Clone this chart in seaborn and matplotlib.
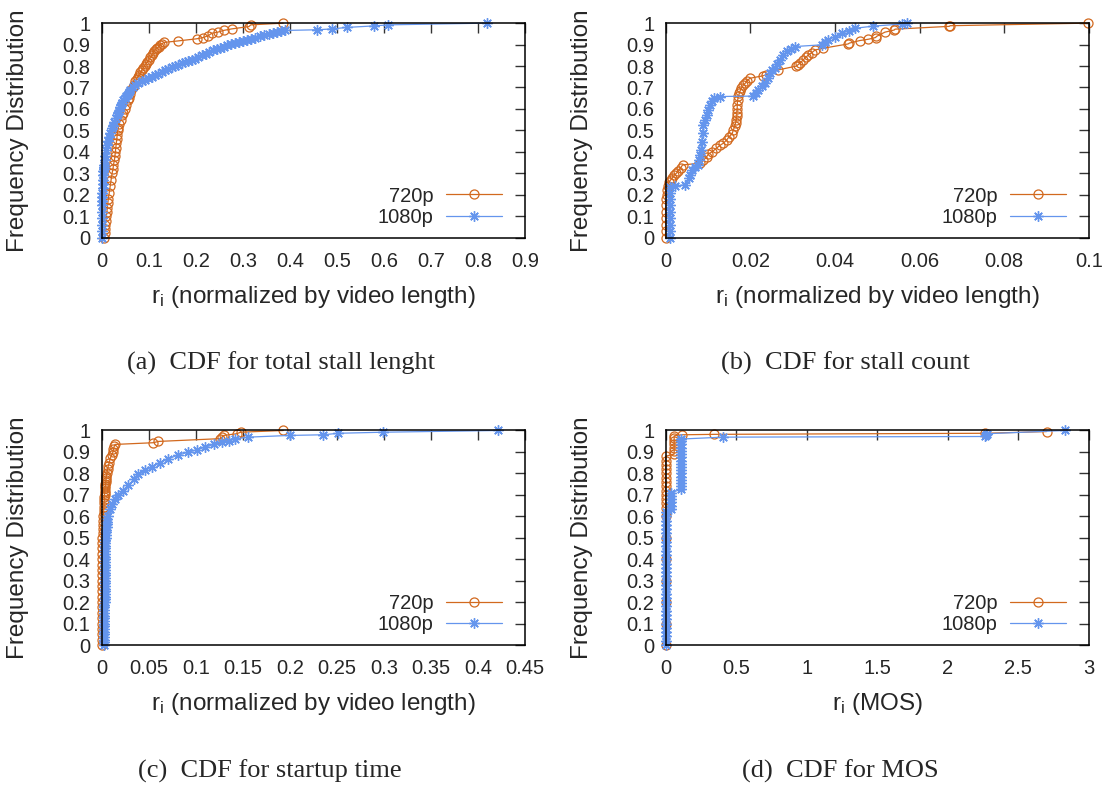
import matplotlib
matplotlib.use("Agg")
import matplotlib.pyplot as plt
import seaborn as sns
from matplotlib.ticker import MultipleLocator, FormatStrFormatter

# (a) total stall length -- CDF points
a720_x = [0.005, 0.006, 0.007, 0.008, 0.009, 0.010, 0.011, 0.012, 0.013, 0.014,
          0.016, 0.018, 0.020, 0.022, 0.024, 0.025, 0.027, 0.028, 0.029, 0.030,
          0.031, 0.032, 0.033, 0.034, 0.035, 0.037, 0.040, 0.043, 0.046, 0.049,
          0.052, 0.055, 0.057, 0.060, 0.063, 0.066, 0.068, 0.071, 0.074, 0.077,
          0.079, 0.082, 0.085, 0.088, 0.091, 0.094, 0.097, 0.100, 0.103, 0.106,
          0.109, 0.112, 0.115, 0.118, 0.121, 0.125, 0.129, 0.132, 0.162, 0.202,
          0.216, 0.227, 0.234, 0.247, 0.259, 0.276, 0.313, 0.317, 0.386]
a720_y = [0.00, 0.02, 0.04, 0.06, 0.08, 0.10, 0.12, 0.14, 0.16, 0.18,
          0.21, 0.24, 0.27, 0.30, 0.32, 0.34, 0.36, 0.38, 0.40, 0.42,
          0.44, 0.46, 0.48, 0.50, 0.51, 0.53, 0.55, 0.57, 0.58, 0.60,
          0.62, 0.64, 0.65, 0.67, 0.69, 0.70, 0.71, 0.73, 0.74, 0.75,
          0.76, 0.77, 0.78, 0.79, 0.80, 0.81, 0.82, 0.83, 0.84, 0.85,
          0.86, 0.87, 0.88, 0.885, 0.89, 0.90, 0.905, 0.91, 0.917, 0.927,
          0.933, 0.942, 0.953, 0.958, 0.966, 0.973, 0.984, 0.992, 1.0]
a1080_x = [0.000, 0.000, 0.000, 0.000, 0.000, 0.000, 0.001, 0.001, 0.001, 0.002,
           0.002, 0.002, 0.003, 0.003, 0.004, 0.004,
           0.005, 0.006, 0.007, 0.009, 0.011, 0.013, 0.015, 0.018, 0.021, 0.024,
           0.027, 0.030, 0.033, 0.035, 0.037, 0.039, 0.041, 0.044, 0.046, 0.049,
           0.052, 0.055, 0.057, 0.061, 0.066, 0.071, 0.078, 0.085, 0.092, 0.099,
           0.106, 0.113, 0.120, 0.128, 0.135, 0.142, 0.149, 0.156, 0.163, 0.170,
           0.177, 0.184, 0.191, 0.198, 0.205, 0.213, 0.221, 0.229, 0.237, 0.245,
           0.252, 0.259, 0.267, 0.275, 0.283, 0.291, 0.300, 0.308, 0.317, 0.327,
           0.337, 0.346, 0.355, 0.365, 0.373, 0.381, 0.390, 0.457, 0.489, 0.521,
           0.578, 0.609, 0.819]
a1080_y = [0.00, 0.03, 0.06, 0.09, 0.12, 0.15, 0.17, 0.19, 0.21, 0.23,
           0.25, 0.27, 0.29, 0.31, 0.32, 0.33,
           0.34, 0.36, 0.38, 0.41, 0.43, 0.45, 0.47, 0.49, 0.51, 0.52,
           0.54, 0.56, 0.57, 0.58, 0.59, 0.61, 0.62, 0.63, 0.64, 0.65,
           0.66, 0.67, 0.68, 0.69, 0.70, 0.71, 0.72, 0.73, 0.736, 0.742,
           0.75, 0.759, 0.765, 0.772, 0.782, 0.788, 0.795, 0.80, 0.805, 0.812,
           0.818, 0.824, 0.829, 0.835, 0.842, 0.852, 0.858, 0.865, 0.875, 0.88,
           0.886, 0.891, 0.896, 0.902, 0.907, 0.912, 0.917, 0.922, 0.927, 0.933,
           0.938, 0.943, 0.948, 0.953, 0.958, 0.963, 0.966, 0.969, 0.973, 0.98,
           0.987, 0.992, 1.0]

# (b) stall count
b720_x = [0.0, 0.0, 0.0, 0.0, 0.0, 0.0, 0.0001, 0.0002, 0.0004, 0.0006,
          0.0008, 0.0012, 0.0016, 0.0020, 0.0025, 0.0030, 0.0035, 0.0040, 0.0081, 0.0089,
          0.0097, 0.0101, 0.0110, 0.0120, 0.0128, 0.0136, 0.0144, 0.0150, 0.0157, 0.0160,
          0.0163, 0.0165, 0.0167, 0.0168, 0.0168, 0.0169, 0.0169, 0.0170, 0.0172, 0.0174,
          0.0176, 0.0179, 0.0183, 0.0188, 0.0193, 0.0199, 0.0231, 0.0236, 0.0266, 0.0309,
          0.0312, 0.0318, 0.0325, 0.0331, 0.0337, 0.0345, 0.0353, 0.0372, 0.0431, 0.0434,
          0.0459, 0.0479, 0.0496, 0.0498, 0.0518, 0.0540, 0.0542, 0.0670, 0.0672, 0.0998]
b720_y = [0.00, 0.03, 0.06, 0.09, 0.12, 0.15, 0.18, 0.20, 0.22, 0.24,
          0.26, 0.27, 0.28, 0.29, 0.30, 0.31, 0.325, 0.339, 0.347, 0.36,
          0.378, 0.39, 0.401, 0.417, 0.43, 0.44, 0.455, 0.471, 0.485, 0.502,
          0.52, 0.534, 0.55, 0.565, 0.58, 0.60, 0.62, 0.642, 0.66, 0.673,
          0.685, 0.697, 0.71, 0.72, 0.732, 0.743, 0.755, 0.759, 0.782, 0.80,
          0.805, 0.815, 0.829, 0.84, 0.852, 0.862, 0.875, 0.883, 0.903, 0.907,
          0.919, 0.925, 0.933, 0.938, 0.958, 0.968, 0.972, 0.985, 0.988, 1.0]
b1080_x = [0.001, 0.001, 0.001, 0.001, 0.001, 0.001, 0.001, 0.001, 0.001, 0.0022,
           0.0046, 0.0054, 0.0058, 0.0062, 0.0070, 0.0077, 0.0079, 0.0081, 0.0083, 0.0085,
           0.0087, 0.0089, 0.0093, 0.0097, 0.0101, 0.0105, 0.0109, 0.0113, 0.0128, 0.0207,
           0.0213, 0.0219, 0.0227, 0.0235, 0.0241, 0.0247, 0.0252, 0.0258, 0.0264, 0.0270,
           0.0278, 0.0286, 0.0296, 0.0306, 0.0369, 0.0376, 0.0384, 0.0400, 0.0416, 0.0432,
           0.0447, 0.0490, 0.0558, 0.0569]
b1080_y = [0.00, 0.03, 0.06, 0.09, 0.12, 0.15, 0.18, 0.21, 0.238, 0.242,
           0.246, 0.277, 0.29, 0.316, 0.33, 0.339, 0.36, 0.386, 0.41, 0.448,
           0.49, 0.526, 0.55, 0.572, 0.595, 0.619, 0.635, 0.65, 0.658, 0.66,
           0.675, 0.689, 0.705, 0.72, 0.745, 0.767, 0.78, 0.79, 0.81, 0.829,
           0.85, 0.868, 0.88, 0.891, 0.899, 0.91, 0.922, 0.937, 0.953, 0.965,
           0.976, 0.986, 0.996, 1.0]

# (c) startup time
c720_x = [0.0, 0.0, 0.0, 0.0, 0.0, 0.0, 0.0, 0.0, 0.0, 0.0,
          0.0, 0.0, 0.0, 0.0, 0.0, 0.0003, 0.0004, 0.0005, 0.0006, 0.0007,
          0.0008, 0.0010, 0.0012, 0.0014, 0.0016, 0.0018, 0.0020, 0.0022, 0.0024, 0.0025,
          0.0027, 0.0028, 0.0030, 0.0032, 0.0033, 0.0035, 0.0038, 0.0040, 0.0043, 0.0045,
          0.0048, 0.0050, 0.0055, 0.0062, 0.0070, 0.0080, 0.0090, 0.0106, 0.0120, 0.0125,
          0.0135, 0.0141, 0.0549, 0.0602, 0.1260, 0.1276, 0.1300, 0.1435, 0.1478, 0.1930]
c720_y = [0.00, 0.025, 0.05, 0.075, 0.10, 0.125, 0.15, 0.175, 0.20, 0.225,
          0.25, 0.275, 0.30, 0.325, 0.35, 0.375, 0.40, 0.425, 0.45, 0.475,
          0.50, 0.52, 0.54, 0.56, 0.58, 0.60, 0.615, 0.63, 0.645, 0.66,
          0.675, 0.69, 0.70, 0.71, 0.72, 0.73, 0.74, 0.75, 0.76, 0.77,
          0.78, 0.79, 0.80, 0.82, 0.835, 0.85, 0.87, 0.885, 0.90, 0.915,
          0.928, 0.935, 0.943, 0.949, 0.962, 0.969, 0.977, 0.985, 0.992, 1.0]
c1080_x = [0.002, 0.002, 0.002, 0.002, 0.002, 0.002, 0.002, 0.002,
           0.0025, 0.0025, 0.0025, 0.0025, 0.0025, 0.0025, 0.0025, 0.0025,
           0.003, 0.003, 0.003, 0.003, 0.003, 0.003, 0.003, 0.003,
           0.0035, 0.0035, 0.0035, 0.0035, 0.0035, 0.0035, 0.0035, 0.0035,
           0.004, 0.004, 0.004, 0.004, 0.004, 0.004, 0.004, 0.004,
           0.005, 0.005, 0.005, 0.005, 0.006, 0.006, 0.006, 0.006, 0.007,
           0.0085, 0.0106, 0.014, 0.0177,
           0.023, 0.0283, 0.034, 0.039, 0.046, 0.0532, 0.062, 0.0709, 0.081, 0.0921,
           0.101, 0.1099, 0.119, 0.1276, 0.135, 0.1418, 0.156, 0.2002, 0.2356, 0.2515,
           0.2994, 0.4216]
c1080_y = [0.0, 0.0125, 0.025, 0.0375, 0.05, 0.0625, 0.075, 0.0875,
           0.10, 0.1125, 0.125, 0.1375, 0.15, 0.1625, 0.175, 0.1875,
           0.20, 0.2125, 0.225, 0.2375, 0.25, 0.2625, 0.275, 0.2875,
           0.30, 0.3125, 0.325, 0.3375, 0.35, 0.3625, 0.375, 0.3875,
           0.40, 0.4125, 0.425, 0.4375, 0.45, 0.4625, 0.475, 0.4875,
           0.50, 0.5125, 0.525, 0.5375, 0.55, 0.5625, 0.575, 0.5875, 0.60,
           0.635, 0.659, 0.68, 0.698,
           0.72, 0.744, 0.772, 0.798, 0.815, 0.829, 0.85, 0.868, 0.885, 0.899,
           0.91, 0.922, 0.935, 0.946, 0.953, 0.961, 0.969, 0.977, 0.98, 0.987,
           0.992, 1.0]

# (d) MOS
d720_x = [0.0, 0.0, 0.0, 0.0, 0.0, 0.0, 0.0,
          0.0, 0.0, 0.0, 0.0, 0.0, 0.0, 0.0, 0.0, 0.0, 0.0, 0.0, 0.0, 0.0,
          0.06, 0.06, 0.06, 0.06, 0.06, 0.06, 0.06,
          0.113, 0.345, 2.263, 2.70]
d720_y = [0.0, 0.1, 0.2, 0.3, 0.4, 0.5, 0.6,
          0.64, 0.66, 0.68, 0.70, 0.72, 0.74, 0.76, 0.78, 0.80, 0.82, 0.84, 0.86, 0.88,
          0.89, 0.905, 0.92, 0.935, 0.95, 0.965, 0.975,
          0.98, 0.982, 0.987, 0.995]
d1080_x = [0.0, 0.0, 0.0, 0.0, 0.0, 0.0, 0.0, 0.0, 0.0, 0.0,
           0.0, 0.0, 0.0, 0.0, 0.0, 0.0, 0.0, 0.0, 0.0, 0.0,
           0.0, 0.0, 0.0, 0.0, 0.0, 0.0, 0.0, 0.0, 0.0, 0.0,
           0.0, 0.0,
           0.04, 0.04, 0.04, 0.04, 0.04, 0.04,
           0.105, 0.105, 0.105, 0.105, 0.105, 0.105, 0.105, 0.105, 0.105, 0.105,
           0.105, 0.105, 0.105, 0.105, 0.105, 0.105, 0.105,
           0.408, 2.26, 2.27, 2.28, 2.83]
d1080_y = [0.00, 0.02, 0.04, 0.06, 0.08, 0.10, 0.12, 0.14, 0.16, 0.18,
           0.20, 0.22, 0.24, 0.26, 0.28, 0.30, 0.32, 0.34, 0.36, 0.38,
           0.40, 0.42, 0.44, 0.46, 0.48, 0.50, 0.52, 0.54, 0.56, 0.58,
           0.60, 0.62,
           0.635, 0.65, 0.665, 0.68, 0.695, 0.71,
           0.725, 0.74, 0.755, 0.77, 0.785, 0.80, 0.815, 0.83, 0.845, 0.86,
           0.875, 0.89, 0.905, 0.92, 0.935, 0.95, 0.96,
           0.969, 0.972, 0.978, 0.985, 1.0]

ORANGE = "#d2691e"
BLUE = "#6495ed"
FS = 14.5
LABEL_FS = 17.5
XLABEL_LEN = r"r$_\mathrm{i}$ (normalized by video length)"
XLABEL_MOS = r"r$_\mathrm{i}$ (MOS)"


def plot_panel(ax, x720, y720, x1080, y1080, xmax, xstep, xlabel):
    """One CDF panel in gnuplot look"""
    sns.lineplot(x=x720, y=y720, ax=ax, estimator=None, sort=False,
                 color=ORANGE, lw=0.9, marker="o", ms=6.5, mfc="none",
                 mec=ORANGE, mew=0.9, label="720p", clip_on=False)
    sns.lineplot(x=x1080, y=y1080, ax=ax, estimator=None, sort=False,
                 color=BLUE, lw=0.9, marker=(8, 2, 0), ms=7.5,
                 mec=BLUE, mew=1.0, label="1080p", clip_on=False)

    ax.set_xlim(0, xmax)
    ax.set_ylim(0, 1)
    ax.xaxis.set_major_locator(MultipleLocator(xstep))
    ax.xaxis.set_major_formatter(FormatStrFormatter("%g"))
    ax.yaxis.set_major_locator(MultipleLocator(0.1))
    ax.yaxis.set_major_formatter(FormatStrFormatter("%g"))
    ax.tick_params(direction="in", length=7, width=1, color="#333333",
                   top=True, right=True, labelsize=FS)
    ax.tick_params(axis="x", pad=10)
    ax.tick_params(axis="y", pad=8)
    for sp in ax.spines.values():
        sp.set_color("black")
        sp.set_linewidth(1.1)

    ax.set_xlabel(xlabel, fontsize=LABEL_FS)
    ax.set_ylabel("Frequency Distribution", fontsize=LABEL_FS)
    ax.xaxis.set_label_coords(0.5, -0.215)
    ax.yaxis.set_label_coords(-0.172, 0.5)

    ax.legend(loc="lower right", bbox_to_anchor=(0.946, 0.05), frameon=False,
              markerfirst=False, handlelength=2.8, handletextpad=0.6,
              labelspacing=0.12, borderpad=0, borderaxespad=0, fontsize=FS)


def main():
    sns.set_style("white")
    plt.rcParams["font.family"] = ["Liberation Sans", "DejaVu Sans"]
    plt.rcParams["mathtext.fontset"] = "custom"
    plt.rcParams["mathtext.rm"] = "Liberation Sans"
    plt.rcParams["mathtext.it"] = "Liberation Sans"

    fig = plt.figure(figsize=(11.08, 7.87), dpi=100)
    w, h = 0.382, 0.2726
    ax_a = fig.add_axes([0.0918, 0.698, w, h])
    ax_b = fig.add_axes([0.6008, 0.698, w, h])
    ax_c = fig.add_axes([0.0918, 0.1804, w, h])
    ax_d = fig.add_axes([0.6008, 0.1804, w, h])

    plot_panel(ax_a, a720_x, a720_y, a1080_x, a1080_y, 0.9, 0.1, XLABEL_LEN)
    plot_panel(ax_b, b720_x, b720_y, b1080_x, b1080_y, 0.1, 0.02, XLABEL_LEN)
    plot_panel(ax_c, c720_x, c720_y, c1080_x, c1080_y, 0.45, 0.05, XLABEL_LEN)
    plot_panel(ax_d, d720_x, d720_y, d1080_x, d1080_y, 3, 0.5, XLABEL_MOS)

    # sub-figure captions
    serif = ["Liberation Serif", "DejaVu Serif"]
    fig.text(0.2536, 0.5388, "(a)  CDF for total stall lenght", ha="center", va="center",
             family=serif, fontsize=19)
    fig.text(0.7626, 0.5388, "(b)  CDF for stall count", ha="center", va="center",
             family=serif, fontsize=19)
    fig.text(0.2437, 0.0203, "(c)  CDF for startup time", ha="center", va="center",
             family=serif, fontsize=19)
    fig.text(0.7580, 0.0203, "(d)  CDF for MOS", ha="center", va="center",
             family=serif, fontsize=19)

    fig.savefig("out.png", dpi=100)


if __name__ == "__main__":
    main()
